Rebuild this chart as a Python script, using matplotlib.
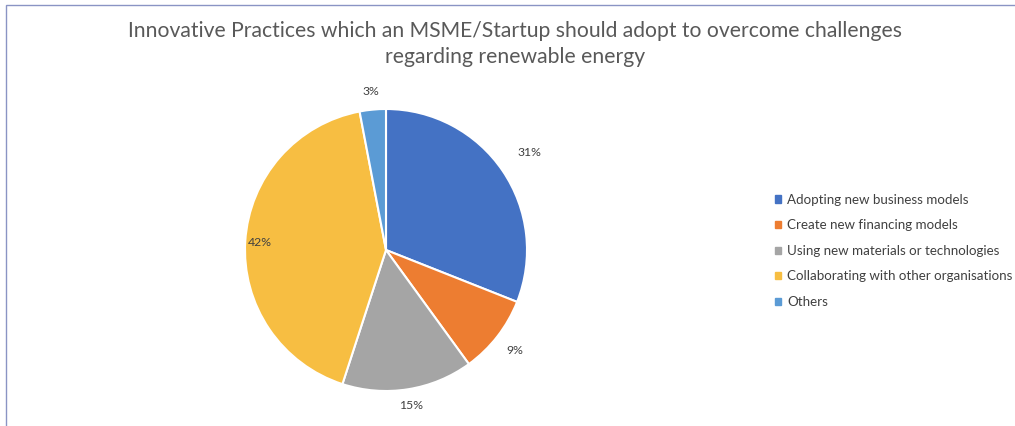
import numpy as np
import matplotlib.pyplot as plt
from matplotlib.patches import Rectangle

categories = [
    'Adopting new business models',
    'Create new financing models',
    'Using new materials or technologies',
    'Collaborating with other organisations',
    'Others',
]
shares = [31, 9, 15, 42, 3]
colors = ['#4472C4', '#ED7D31', '#A5A5A5', '#F7BE42', '#5B9BD5']
# how far out each percentage label sits, as a fraction of the radius
label_radius = [1.23, 1.16, 1.12, 0.90, 1.13]

title = ('Innovative Practices which an MSME/Startup should adopt to overcome challenges\n'
         'regarding renewable energy')

plt.rcParams['font.family'] = ['Lato', 'DejaVu Sans']

W, H = 1015, 426
fig = plt.figure(figsize=(W / 100, H / 100), dpi=100)
fig.patch.set_facecolor('white')

# chart frame, running off the right and bottom edges
fig.patches.append(Rectangle((6 / W, -0.1), 1.2, (H - 5) / H + 0.1, transform=fig.transFigure,
                             fill=False, edgecolor='#8A94C4', linewidth=1.0))

fig.text(515 / W, 1 - 44 / H, title, ha='center', va='center', fontsize=15.2,
         color='#595959', linespacing=1.42)

r_px = 141
cx, cy = 386, 250
ax = fig.add_axes([(cx - r_px) / W, (H - cy - r_px) / H, 2 * r_px / W, 2 * r_px / H])
wedges, _ = ax.pie(shares, colors=colors, startangle=90, counterclock=False,
                   wedgeprops=dict(edgecolor='white', linewidth=1.5))
ax.set_xlim(-1, 1)
ax.set_ylim(-1, 1)
ax.set_aspect('equal')
ax.axis('off')

for w, s, rr in zip(wedges, shares, label_radius):
    mid = np.deg2rad((w.theta1 + w.theta2) / 2)
    ax.text(rr * np.cos(mid), rr * np.sin(mid), f'{s}%', ha='center', va='center',
            fontsize=8.8, color='#404040', clip_on=False)

handles = [Rectangle((0, 0), 1, 1, color=c) for c in colors]
fig.legend(handles, categories, loc='upper left', bbox_to_anchor=(768 / W, 1 - 187 / H),
           frameon=False, fontsize=9.6, labelcolor='#404040', handlelength=0.45,
           handleheight=0.45, handletextpad=0.5, labelspacing=1.02, borderpad=0)

fig.savefig('out.png', dpi=100)
